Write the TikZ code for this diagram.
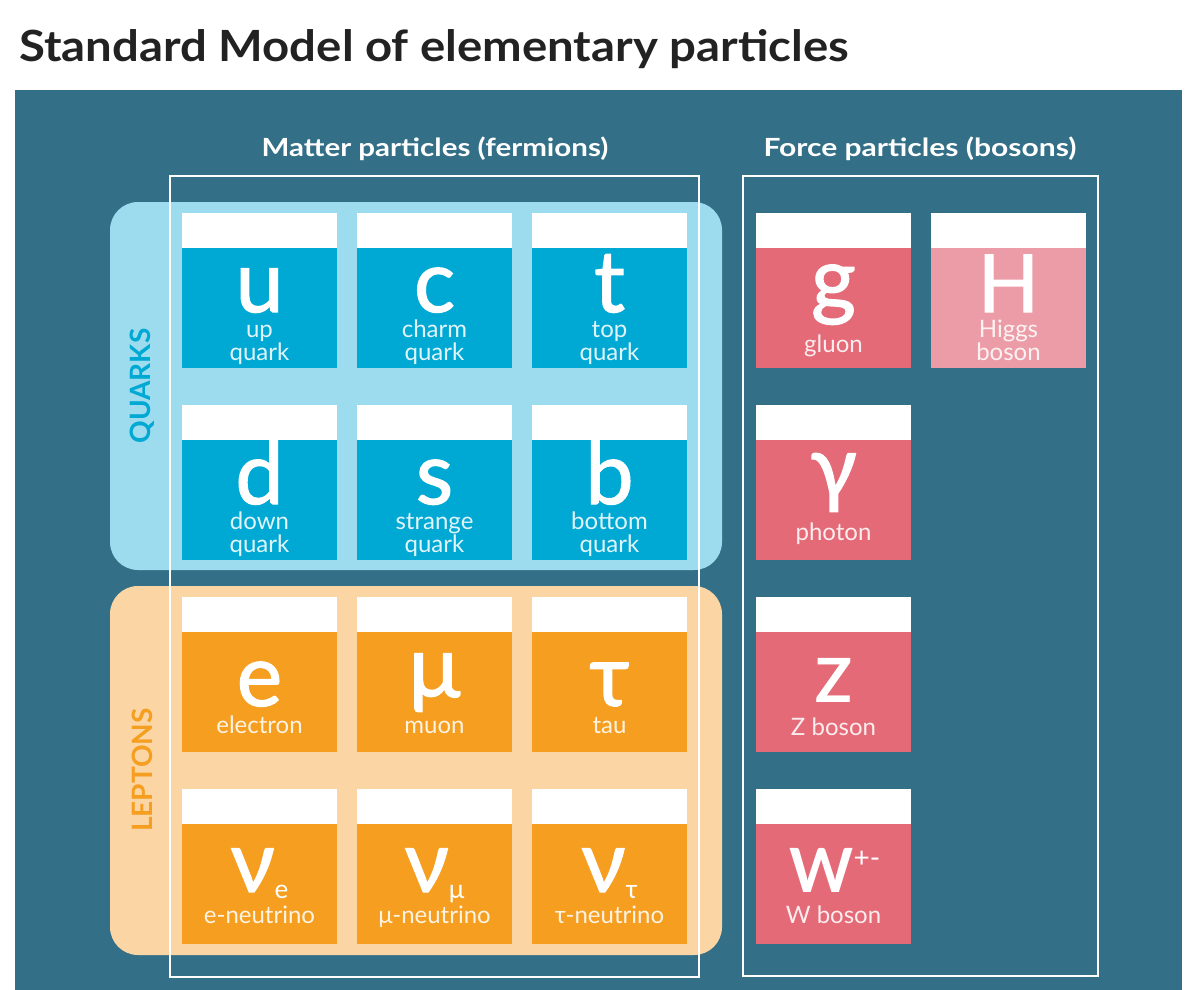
\documentclass[tikz,border=0pt]{standalone}
\usepackage{graphicx}
\usepackage{fontspec}
\setmainfont{Lato}
\newfontfamily\symfont[FakeBold=1.5]{Lato}
\definecolor{bgteal}{HTML}{337087}
\definecolor{quarkbg}{HTML}{9CDCEE}
\definecolor{quarkc}{HTML}{00A8D4}
\definecolor{leptonbg}{HTML}{FBD6A4}
\definecolor{leptonc}{HTML}{F59E20}
\definecolor{bosonc}{HTML}{E46A78}
\definecolor{higgsc}{HTML}{EC9CA6}
\definecolor{titlec}{HTML}{222222}
\newcommand\pcell[3]{\fill[white] (#1,#2) rectangle ++(155,35);
  \fill[#3] (#1,#2+35) rectangle ++(155,120);}
\begin{document}
\begin{tikzpicture}[x=1pt,y=-1pt,
  sym/.style={anchor=base, text=white, inner sep=0, font=\symfont\fontsize{86}{86}\selectfont},
  capsym/.style={anchor=base, text=white, inner sep=0, font=\fontsize{61}{61}\selectfont\bfseries},
  lbl/.style={anchor=base, text=white, text opacity=0.88, inner sep=0, font=\fontsize{24}{24}\selectfont},
  hdrtxt/.style={text=white, inner sep=0, font=\fontsize{25}{25}\selectfont\bfseries},
  grouptxt/.style={rotate=90, inner sep=0, font=\fontsize{28}{28}\selectfont\bfseries},
  outline/.style={draw=white, line width=1.5pt}]
\useasboundingbox (0,0) rectangle (1200,990);
\fill[white] (0,0) rectangle (1200,990);
\node[anchor=base west, inner sep=0, text=titlec, font=\fontsize{43}{43}\selectfont\bfseries] (title) at (19,62) {\scalebox{1.1}[1]{Standard Model of elementary particles}};
\fill[bgteal] (15,90) rectangle (1182,990);
% group regions
\fill[quarkbg, rounded corners=28pt] (110,202) rectangle (722,570);
\fill[leptonbg, rounded corners=28pt] (110,586) rectangle (722,955);
% outlines
\draw[outline] (170,176) rectangle (699,977);
\draw[outline] (743,176) rectangle (1098,976);
% headers
\node[hdrtxt] (mh) at (435,149) {\scalebox{1.18}[1]{Matter particles (fermions)}};
\node[hdrtxt] (fh) at (920,149) {\scalebox{1.2}[1]{Force particles (bosons)}};
\node[grouptxt, text=quarkc] (qk) at (142,386) {QUARKS};
\node[grouptxt, text=leptonc] (lp) at (142,770) {LEPTONS};
% cells
\pcell{182}{213}{quarkc}\pcell{357}{213}{quarkc}\pcell{532}{213}{quarkc}
\pcell{182}{405}{quarkc}\pcell{357}{405}{quarkc}\pcell{532}{405}{quarkc}
\pcell{182}{597}{leptonc}\pcell{357}{597}{leptonc}\pcell{532}{597}{leptonc}
\pcell{182}{789}{leptonc}\pcell{357}{789}{leptonc}\pcell{532}{789}{leptonc}
\pcell{756}{213}{bosonc}\pcell{931}{213}{higgsc}
\pcell{756}{405}{bosonc}\pcell{756}{597}{bosonc}\pcell{756}{789}{bosonc}
% quarks
\node[sym] (su) at (259.5,312) {u};
\node[lbl] (lu1) at (259.5,337) {up};
\node[lbl] (lu2) at (259.5,360) {quark};
\node[sym] (sc) at (434.5,312) {c};
\node[lbl] (lc1) at (434.5,337) {charm};
\node[lbl] (lc2) at (434.5,360) {quark};
\node[sym] (st) at (609.5,312) {t};
\node[lbl] (lt1) at (609.5,337) {top};
\node[lbl] (lt2) at (609.5,360) {quark};
\node[sym] (sd) at (259.5,504) {d};
\node[lbl] (ld1) at (259.5,529) {down};
\node[lbl] (ld2) at (259.5,552) {quark};
\node[sym] (ss) at (434.5,504) {s};
\node[lbl] (ls1) at (434.5,529) {strange};
\node[lbl] (ls2) at (434.5,552) {quark};
\node[sym] (sb) at (609.5,504) {b};
\node[lbl] (lb1) at (609.5,529) {bottom};
\node[lbl] (lb2) at (609.5,552) {quark};
% leptons
\node[sym] (se) at (259.5,706) {e};
\node[lbl] (le) at (259.5,733) {electron};
\node[sym] (smu) at (434.5,697) {μ};
\node[lbl] (lmu) at (434.5,733) {muon};
\node[sym] (stau) at (609.5,706) {τ};
\node[lbl] (ltau) at (609.5,733) {tau};
\node[sym] (sne) at (259.5,892) {ν{\rmfamily\fontsize{26}{26}\selectfont\raisebox{-6pt}{e}}};
\node[lbl] (lne) at (259.5,923) {e-neutrino};
\node[sym] (snm) at (434.5,892) {ν{\rmfamily\fontsize{26}{26}\selectfont\raisebox{-6pt}{μ}}};
\node[lbl] (lnm) at (434.5,923) {μ-neutrino};
\node[sym] (snt) at (609.5,892) {ν{\rmfamily\fontsize{26}{26}\selectfont\raisebox{-6pt}{τ}}};
\node[lbl] (lnt) at (609.5,923) {τ-neutrino};
% bosons
\node[sym] (sg) at (833.5,309) {g};
\node[lbl] (lg) at (833.5,352) {gluon};
\node[sym, font=\symfont\fontsize{80}{80}\selectfont] (sh) at (1008.5,312) {H};
\node[lbl] (lh1) at (1008.5,337) {Higgs};
\node[lbl] (lh2) at (1008.5,360) {boson};
\node[sym] (sgam) at (833.5,497) {γ};
\node[lbl] (lgam) at (833.5,540) {photon};
\node[capsym] (sz) at (833.5,702) {Z};
\node[lbl] (lz) at (833.5,735) {Z boson};
\node[capsym] (sw) at (835,892) {W\raisebox{25pt}{\mdseries\fontsize{28}{28}\selectfont +-}};
\node[lbl] (lw) at (833.5,923) {W boson};
\end{tikzpicture}
\end{document}
